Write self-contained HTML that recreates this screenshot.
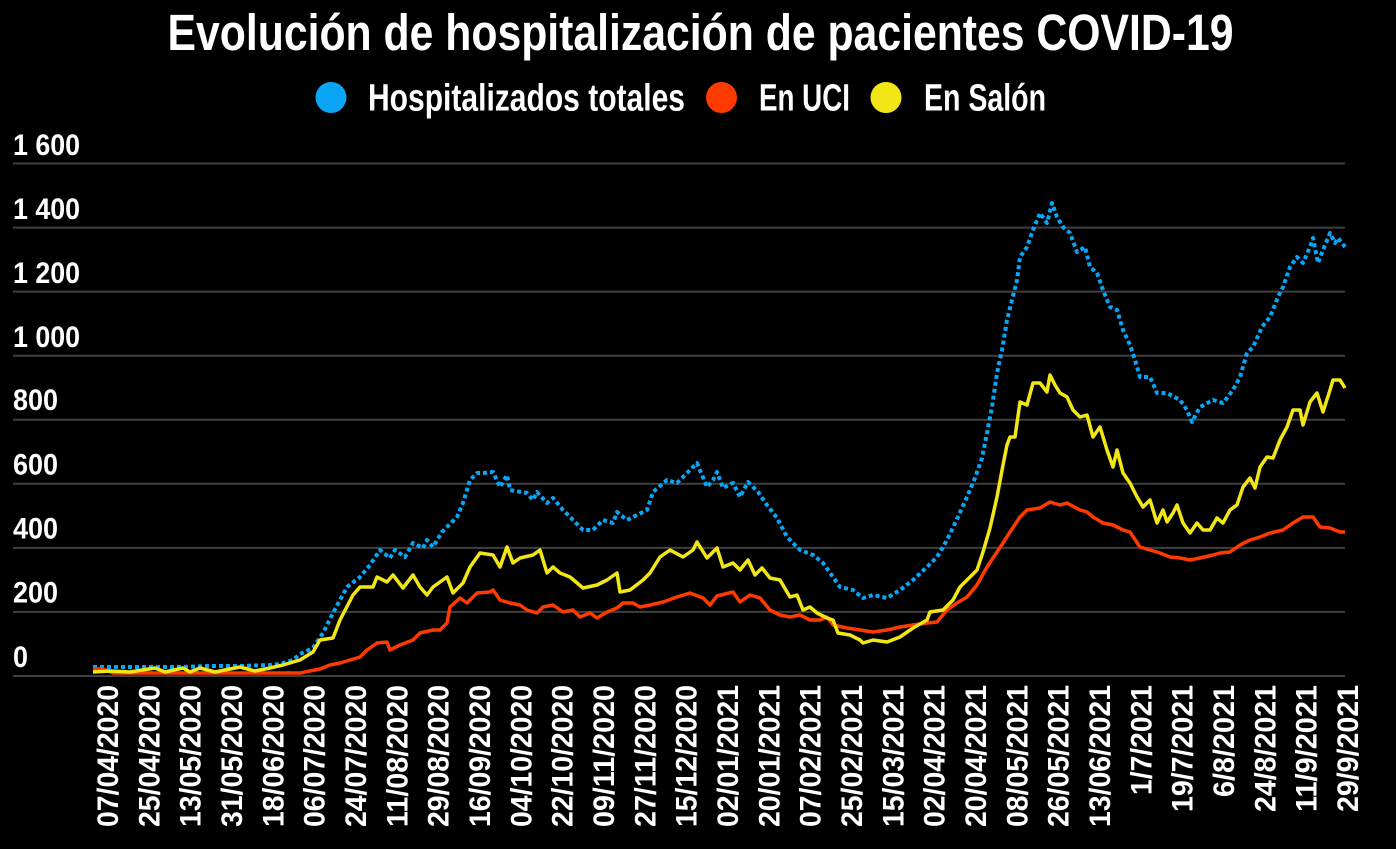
<!DOCTYPE html>
<html>
<head>
<meta charset="utf-8">
<style>
html,body{margin:0;padding:0;background:#000;}
svg{display:block;}
text{font-family:"Liberation Sans Narrow","Liberation Sans","DejaVu Sans Condensed",sans-serif;font-weight:bold;fill:#fff;}
</style>
</head>
<body>
<svg width="1396" height="849" viewBox="0 0 1396 849" xmlns="http://www.w3.org/2000/svg">
<rect width="1396" height="849" fill="#000"/>
<!-- Title -->
<text x="167.5" y="50" font-size="51" textLength="1066" lengthAdjust="spacingAndGlyphs">Evolución de hospitalización de pacientes COVID-19</text>
<!-- Legend -->
<circle cx="331" cy="97.5" r="15.5" fill="#0aa5f5"/>
<text x="368" y="110.5" font-size="38" textLength="317" lengthAdjust="spacingAndGlyphs">Hospitalizados totales</text>
<circle cx="721.5" cy="97.5" r="15.5" fill="#ff3a00"/>
<text x="759" y="110.5" font-size="38" textLength="91" lengthAdjust="spacingAndGlyphs">En UCI</text>
<circle cx="886" cy="97.5" r="15.5" fill="#f2e716"/>
<text x="924" y="110.5" font-size="38" textLength="122" lengthAdjust="spacingAndGlyphs">En Salón</text>

<!-- Gridlines -->
<g stroke="#404040" stroke-width="2">
<line x1="13" y1="163.5" x2="1345" y2="163.5"/>
<line x1="13" y1="227.6" x2="1345" y2="227.6"/>
<line x1="13" y1="291.6" x2="1345" y2="291.6"/>
<line x1="13" y1="355.7" x2="1345" y2="355.7"/>
<line x1="13" y1="419.8" x2="1345" y2="419.8"/>
<line x1="13" y1="483.8" x2="1345" y2="483.8"/>
<line x1="13" y1="547.9" x2="1345" y2="547.9"/>
<line x1="13" y1="611.9" x2="1345" y2="611.9"/>
<line x1="13" y1="676" x2="1345" y2="676"/>
</g>

<!-- Y labels -->
<g font-size="30">
<text x="13" y="155" textLength="67" lengthAdjust="spacingAndGlyphs">1 600</text>
<text x="13" y="219" textLength="67" lengthAdjust="spacingAndGlyphs">1 400</text>
<text x="13" y="283" textLength="67" lengthAdjust="spacingAndGlyphs">1 200</text>
<text x="13" y="347" textLength="67" lengthAdjust="spacingAndGlyphs">1 000</text>
<text x="13" y="410" textLength="45" lengthAdjust="spacingAndGlyphs">800</text>
<text x="13" y="474.5" textLength="45" lengthAdjust="spacingAndGlyphs">600</text>
<text x="13" y="538.5" textLength="45" lengthAdjust="spacingAndGlyphs">400</text>
<text x="13" y="602.5" textLength="45" lengthAdjust="spacingAndGlyphs">200</text>
<text x="13" y="667" textLength="15" lengthAdjust="spacingAndGlyphs">0</text>
</g>

<!-- X labels -->
<g font-size="30" text-anchor="end">
<text transform="translate(118,685) rotate(-90)" textLength="142" lengthAdjust="spacingAndGlyphs">07/04/2020</text>
<text transform="translate(159.3,685) rotate(-90)" textLength="142" lengthAdjust="spacingAndGlyphs">25/04/2020</text>
<text transform="translate(200.7,685) rotate(-90)" textLength="142" lengthAdjust="spacingAndGlyphs">13/05/2020</text>
<text transform="translate(242,685) rotate(-90)" textLength="142" lengthAdjust="spacingAndGlyphs">31/05/2020</text>
<text transform="translate(283.3,685) rotate(-90)" textLength="142" lengthAdjust="spacingAndGlyphs">18/06/2020</text>
<text transform="translate(324.7,685) rotate(-90)" textLength="142" lengthAdjust="spacingAndGlyphs">06/07/2020</text>
<text transform="translate(366,685) rotate(-90)" textLength="142" lengthAdjust="spacingAndGlyphs">24/07/2020</text>
<text transform="translate(407.3,685) rotate(-90)" textLength="142" lengthAdjust="spacingAndGlyphs">11/08/2020</text>
<text transform="translate(448.6,685) rotate(-90)" textLength="142" lengthAdjust="spacingAndGlyphs">29/08/2020</text>
<text transform="translate(490,685) rotate(-90)" textLength="142" lengthAdjust="spacingAndGlyphs">16/09/2020</text>
<text transform="translate(531.3,685) rotate(-90)" textLength="142" lengthAdjust="spacingAndGlyphs">04/10/2020</text>
<text transform="translate(572.6,685) rotate(-90)" textLength="142" lengthAdjust="spacingAndGlyphs">22/10/2020</text>
<text transform="translate(614,685) rotate(-90)" textLength="142" lengthAdjust="spacingAndGlyphs">09/11/2020</text>
<text transform="translate(655.3,685) rotate(-90)" textLength="142" lengthAdjust="spacingAndGlyphs">27/11/2020</text>
<text transform="translate(696.6,685) rotate(-90)" textLength="142" lengthAdjust="spacingAndGlyphs">15/12/2020</text>
<text transform="translate(738,685) rotate(-90)" textLength="142" lengthAdjust="spacingAndGlyphs">02/01/2021</text>
<text transform="translate(779.3,685) rotate(-90)" textLength="142" lengthAdjust="spacingAndGlyphs">20/01/2021</text>
<text transform="translate(820.6,685) rotate(-90)" textLength="142" lengthAdjust="spacingAndGlyphs">07/02/2021</text>
<text transform="translate(862,685) rotate(-90)" textLength="142" lengthAdjust="spacingAndGlyphs">25/02/2021</text>
<text transform="translate(903.3,685) rotate(-90)" textLength="142" lengthAdjust="spacingAndGlyphs">15/03/2021</text>
<text transform="translate(944.6,685) rotate(-90)" textLength="142" lengthAdjust="spacingAndGlyphs">02/04/2021</text>
<text transform="translate(986,685) rotate(-90)" textLength="142" lengthAdjust="spacingAndGlyphs">20/04/2021</text>
<text transform="translate(1027.3,685) rotate(-90)" textLength="142" lengthAdjust="spacingAndGlyphs">08/05/2021</text>
<text transform="translate(1068.6,685) rotate(-90)" textLength="142" lengthAdjust="spacingAndGlyphs">26/05/2021</text>
<text transform="translate(1110,685) rotate(-90)" textLength="142" lengthAdjust="spacingAndGlyphs">13/06/2021</text>
<text transform="translate(1151.3,685) rotate(-90)" textLength="110" lengthAdjust="spacingAndGlyphs">1/7/2021</text>
<text transform="translate(1192.6,685) rotate(-90)" textLength="127" lengthAdjust="spacingAndGlyphs">19/7/2021</text>
<text transform="translate(1234,685) rotate(-90)" textLength="112" lengthAdjust="spacingAndGlyphs">6/8/2021</text>
<text transform="translate(1275.3,685) rotate(-90)" textLength="127" lengthAdjust="spacingAndGlyphs">24/8/2021</text>
<text transform="translate(1316.6,685) rotate(-90)" textLength="127" lengthAdjust="spacingAndGlyphs">11/9/2021</text>
<text transform="translate(1358,685) rotate(-90)" textLength="127" lengthAdjust="spacingAndGlyphs">29/9/2021</text>
</g>

<!-- Series: Hospitalizados totales (dotted blue) -->
<polyline fill="none" stroke="#0aa5f5" stroke-width="4" stroke-dasharray="4 3" stroke-linejoin="round"
points="93,667 120,667 150,667 180,667 210,666 240,666 270,665 280,664 293,660 300,654 313,648 323,633 333,613 347,587 360,577 370,565 380,550 390,558 395,550 405,557 413,543 423,548 427,540 433,547 442,532 457,517 463,503 470,480 477,473 484,473 493,472 500,487 507,475 510,490 527,493 533,500 537,492 547,503 553,498 563,510 573,520 583,530 593,530 603,520 613,523 617,512 627,520 637,515 647,510 653,492 667,480 677,483 687,473 697,463 707,487 713,480 717,472 723,488 733,483 740,497 748,482 758,492 767,505 777,518 787,537 800,550 813,555 823,563 833,577 840,587 853,590 863,598 873,595 887,598 900,590 913,580 927,567 937,557 947,540 957,519 967,497 975,478 982,458 987,433 992,407 997,373 1002,350 1007,320 1012,300 1017,280 1020,257 1027,247 1033,230 1040,213 1047,223 1052,203 1057,217 1063,227 1070,233 1077,252 1085,247 1090,267 1097,273 1103,290 1110,307 1117,310 1123,330 1130,345 1135,360 1140,377 1150,377 1157,393 1167,393 1180,400 1187,410 1192,422 1200,407 1213,400 1223,403 1233,390 1240,377 1247,353 1253,347 1262,327 1270,317 1278,297 1283,287 1290,267 1297,257 1303,263 1310,247 1313,238 1318,263 1323,250 1330,233 1335,243 1338,238 1345,247"/>

<!-- Series: En UCI (red) -->
<polyline fill="none" stroke="#ff3a00" stroke-width="3.5" stroke-linejoin="round"
points="93,669 103,669 113,673 200,673 250,673 300,673 310,671 320,669 330,665 340,663 350,660 360,657 367,650 377,643 387,642 390,650 400,645 413,640 420,633 433,630 440,630 447,623 450,607 460,598 467,603 477,593 490,592 493,590 500,600 510,603 520,605 527,610 537,613 543,607 553,605 563,612 573,610 580,617 590,613 597,618 607,612 617,608 623,603 633,603 640,607 650,605 663,602 677,597 690,593 703,598 710,605 717,596 733,592 740,602 750,595 760,598 770,610 780,615 790,617 800,615 810,620 820,620 827,617 833,625 847,628 860,630 873,632 887,630 900,627 913,625 927,623 937,622 947,610 957,603 967,597 977,585 987,567 997,552 1003,543 1010,532 1020,517 1027,510 1040,508 1050,502 1060,505 1067,503 1080,510 1087,512 1093,517 1103,523 1113,525 1123,530 1130,532 1140,547 1150,550 1160,553 1170,557 1180,558 1190,560 1200,558 1213,555 1220,553 1230,552 1240,545 1250,540 1260,537 1270,533 1283,530 1293,523 1303,517 1313,517 1320,527 1330,528 1340,532 1345,532"/>

<!-- Series: En Salón (yellow) -->
<polyline fill="none" stroke="#f2e716" stroke-width="3.5" stroke-linejoin="round"
points="93,672 110,671 130,672 155,668 165,672 183,668 190,672 200,668 215,672 240,667 255,671 270,668 283,665 300,660 313,652 320,640 333,638 340,620 353,595 360,587 373,587 377,577 387,582 393,575 403,588 413,575 420,587 427,595 433,587 447,577 453,593 463,583 470,567 480,553 493,555 500,567 507,547 513,563 520,558 533,555 540,550 547,573 553,567 560,573 570,577 583,588 597,585 607,580 617,573 620,592 630,590 643,580 650,573 660,557 670,550 683,557 693,550 697,542 707,558 717,548 723,567 733,563 740,570 748,560 755,575 762,568 770,578 780,580 787,592 790,597 797,595 803,610 810,607 817,613 827,618 833,620 838,633 850,635 860,640 863,643 873,640 887,642 900,637 913,628 927,620 930,612 943,610 953,600 960,587 970,577 977,570 983,552 990,528 997,497 1003,465 1007,445 1010,437 1015,437 1020,402 1027,405 1033,383 1040,383 1047,392 1050,375 1055,385 1060,393 1067,397 1073,410 1080,417 1087,415 1093,437 1100,427 1107,450 1113,467 1117,450 1123,473 1130,483 1137,497 1143,507 1150,500 1157,523 1163,510 1167,522 1173,513 1177,505 1183,523 1190,533 1197,523 1203,530 1210,530 1217,518 1223,523 1230,510 1237,505 1243,487 1250,478 1255,488 1260,467 1267,457 1273,458 1280,440 1287,427 1293,410 1300,410 1303,425 1310,402 1317,393 1323,412 1330,390 1333,380 1340,380 1345,388"/>
</svg>
</body>
</html>
